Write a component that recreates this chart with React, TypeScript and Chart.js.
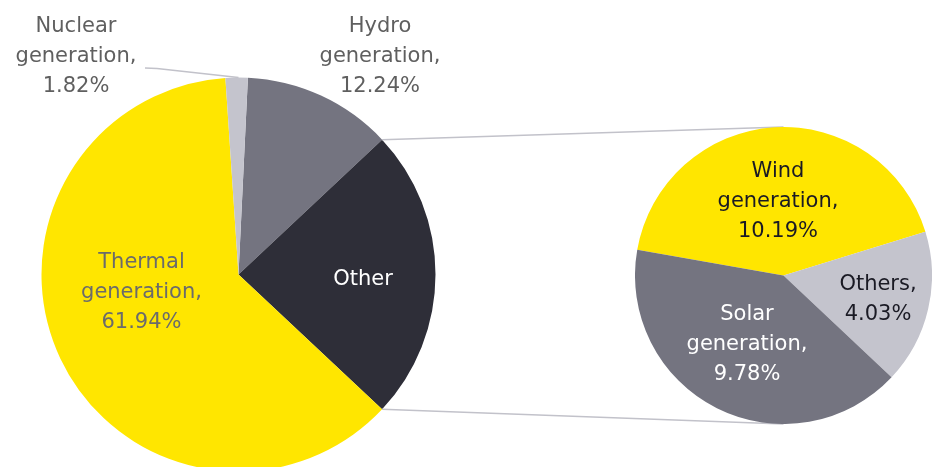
import React, { useEffect, useRef } from "react";
import { Chart, registerables } from "chart.js";

Chart.register(...registerables);

// ---- data ----
const mainNames = ["Hydro", "Other", "Thermal", "Nuclear"];
const mainValues = [12.24, 24.0, 61.94, 1.82];
const mainColors = ["#747480", "#2E2E38", "#FFE600", "#C4C4CD"];

const subNames = ["Wind", "Others", "Solar"];
const subValues = [10.19, 4.03, 9.78];
const subColors = ["#FFE600", "#C4C4CD", "#747480"];

// ---- label text ----
const mainLabelLines: string[][] = [
  [`${mainNames[0]}`, "generation,", `${mainValues[0].toFixed(2)}%`],
  [`${mainNames[1]}`],
  [`${mainNames[2]}`, "generation,", `${mainValues[2].toFixed(2)}%`],
  [`${mainNames[3]}`, "generation,", `${mainValues[3].toFixed(2)}%`],
];
const subLabelLines: string[][] = [
  [`${subNames[0]}`, "generation,", `${subValues[0].toFixed(2)}%`],
  [`${subNames[1]},`, `${subValues[1].toFixed(2)}%`],
  [`${subNames[2]}`, "generation,", `${subValues[2].toFixed(2)}%`],
];

// ---- layout (styles / positions) ----
const W = 933;
const H = 467;
const MAIN_H = 490;
const SUB_LEFT = 635;
const SUB_TOP = 127;
const SUB_SIZE = 297;
const FONT = "21px 'DejaVu Sans'";
const LINE_H = 30;
// label anchor: [centerX, lastBaselineY] in each canvas' own coordinates
const mainLabelPos = [
  [380, 92],
  [363, 285],
  [141.5, 328],
  [76, 91.7],
];
const mainLabelColors = ["#5F5F5F", "#FFFFFF", "#6B6B6B", "#5F5F5F"];
const subLabelPos = [
  [778 - SUB_LEFT, 236.7 - SUB_TOP],
  [878 - SUB_LEFT, 320 - SUB_TOP],
  [747 - SUB_LEFT, 380 - SUB_TOP],
];
const subLabelColors = ["#1A1A24", "#1A1A24", "#FFFFFF"];
const LINE_COLOR = "#C2C2CA";

function drawLabels(ctx: CanvasRenderingContext2D, lines: string[][], pos: number[][], colors: string[]) {
  ctx.save();
  ctx.font = FONT;
  ctx.textAlign = "center";
  ctx.textBaseline = "alphabetic";
  lines.forEach((ls, i) => {
    ctx.fillStyle = colors[i];
    const [cx, by] = pos[i];
    const n = ls.length;
    ls.forEach((t, j) => {
      ctx.fillText(t, cx, by - (n - 1 - j) * LINE_H);
    });
  });
  ctx.restore();
}

export default function App() {
  const mainRef = useRef<HTMLCanvasElement | null>(null);
  const subRef = useRef<HTMLCanvasElement | null>(null);

  useEffect(() => {
    if (!mainRef.current || !subRef.current) return;

    const subChart = new Chart(subRef.current, {
      type: "pie",
      data: {
        labels: subNames,
        datasets: [
          {
            data: subValues,
            backgroundColor: subColors,
            borderWidth: 0,
          },
        ],
      },
      options: {
        responsive: false,
        animation: false,
        events: [],
        rotation: -80,
        layout: { padding: 0 },
        plugins: { legend: { display: false }, tooltip: { enabled: false } },
      },
      plugins: [
        {
          id: "subLabels",
          afterDraw(chart: any) {
            drawLabels(chart.ctx, subLabelLines, subLabelPos, subLabelColors);
          },
        },
      ],
    });

    const total = mainValues.reduce((a, b) => a + b, 0);
    const rotation = 90 - ((mainValues[0] + mainValues[1] / 2) / total) * 360;

    const mainChart = new Chart(mainRef.current, {
      type: "pie",
      data: {
        labels: mainNames,
        datasets: [
          {
            data: mainValues,
            backgroundColor: mainColors,
            borderWidth: 0,
          },
        ],
      },
      options: {
        responsive: false,
        animation: false,
        events: [],
        rotation,
        layout: { padding: { left: 41.5, top: 77.5, right: W - 435.5, bottom: MAIN_H - 471.5 } },
        plugins: { legend: { display: false }, tooltip: { enabled: false } },
      },
      plugins: [
        {
          id: "connectors",
          afterDatasetsDraw(chart: any) {
            const ctx = chart.ctx as CanvasRenderingContext2D;
            const arc = chart.getDatasetMeta(0).data[1] as any;
            const { x, y, startAngle, endAngle, outerRadius } = arc.getProps(
              ["x", "y", "startAngle", "endAngle", "outerRadius"],
              true
            );
            const sArc = subChart.getDatasetMeta(0).data[0] as any;
            const sp = sArc.getProps(["x", "y", "outerRadius"], true);
            const sx = sp.x + SUB_LEFT;
            const sy = sp.y + SUB_TOP;
            const sr = sp.outerRadius;
            ctx.save();
            ctx.strokeStyle = LINE_COLOR;
            ctx.lineWidth = 1.5;
            ctx.beginPath();
            ctx.moveTo(x + outerRadius * Math.cos(startAngle), y + outerRadius * Math.sin(startAngle));
            ctx.lineTo(sx, sy - sr);
            ctx.moveTo(x + outerRadius * Math.cos(endAngle), y + outerRadius * Math.sin(endAngle));
            ctx.lineTo(sx, sy + sr);
            // nuclear leader line
            ctx.moveTo(145, 68);
            ctx.lineTo(157, 68.5);
            ctx.lineTo(x, y - outerRadius);
            ctx.stroke();
            ctx.restore();
            drawLabels(ctx, mainLabelLines, mainLabelPos, mainLabelColors);
          },
        },
      ],
    });

    return () => {
      mainChart.destroy();
      subChart.destroy();
    };
  }, []);

  return (
    <div
      style={{
        position: "absolute",
        left: 0,
        top: 0,
        width: W,
        height: H,
        overflow: "hidden",
        background: "#FFFFFF",
      }}
    >
      <canvas
        ref={mainRef}
        width={W}
        height={MAIN_H}
        style={{ position: "absolute", left: 0, top: 0, width: W, height: MAIN_H }}
      />
      <canvas
        ref={subRef}
        width={SUB_SIZE}
        height={SUB_SIZE}
        style={{ position: "absolute", left: SUB_LEFT, top: SUB_TOP, width: SUB_SIZE, height: SUB_SIZE }}
      />
    </div>
  );
}
